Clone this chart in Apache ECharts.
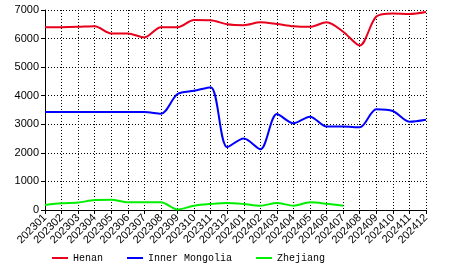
<!DOCTYPE html>
<html><head><meta charset="utf-8">
<script src="https://cdn.jsdelivr.net/npm/echarts@6/dist/echarts.min.js"></script>
<style>html,body{margin:0;padding:0;background:#fff}#c{width:466px;height:272px}</style>
</head><body><div id="c"></div>
<script>
const categories = ['202301','202302','202303','202304','202305','202306','202307','202308','202309','202310','202311','202312','202401','202402','202403','202404','202405','202406','202407','202408','202409','202410','202411','202412'];
const henan = [6400,6400,6410,6430,6180,6180,6040,6400,6400,6650,6640,6500,6470,6570,6510,6430,6410,6570,6240,5760,6770,6880,6860,6930];
const innerMongolia = [3430,3430,3430,3430,3430,3430,3430,3370,4060,4175,4300,2200,2500,2125,3360,3035,3265,2920,2920,2895,3530,3465,3090,3160];
const zhejiang = [174,233,260,350,360,267,267,267,20,150,210,245,210,150,245,150,267,220,150,null,null,null,null,null];
const seriesNames = ['Henan','Inner Mongolia','Zhejiang'];
const colors = ['#e8001c','#0000ff','#00ee00'];

const chart = echarts.init(document.getElementById('c'), null, {renderer:'canvas'});
const dotted = {type:[1,2], color:'#000', width:1};
chart.setOption({
  animation:false,
  grid:{left:45,right:40,top:10,bottom:62},
  legend:{
    bottom:4, left:47, itemWidth:16, itemHeight:2, itemGap:24,
    icon:'rect',
    textStyle:{fontFamily:'Liberation Mono', fontSize:10, color:'#000'},
    data:seriesNames
  },
  xAxis:{
    type:'category', data:categories, boundaryGap:false,
    axisLine:{lineStyle:{color:'#000',width:1}},
    axisTick:{alignWithLabel:true,length:4,lineStyle:{color:'#000'}},
    axisLabel:{rotate:45, interval:0, fontFamily:'Liberation Sans', fontSize:11, color:'#000', margin:6},
    splitLine:{show:true, lineStyle:dotted}
  },
  yAxis:{
    type:'value', min:0, max:7000, interval:1000,
    axisLine:{show:true, lineStyle:{color:'#000',width:1}},
    axisTick:{show:true,length:4,lineStyle:{color:'#000'}},
    axisLabel:{fontFamily:'Liberation Sans', fontSize:11, color:'#000', margin:6, formatter:function(v){return String(v);}},
    splitLine:{show:true, lineStyle:dotted}
  },
  series:[
    {name:seriesNames[0], type:'line', data:henan, smooth:0.3, symbol:'none', lineStyle:{width:2,color:colors[0]}, itemStyle:{color:colors[0]}},
    {name:seriesNames[1], type:'line', data:innerMongolia, smooth:0.3, symbol:'none', lineStyle:{width:2,color:colors[1]}, itemStyle:{color:colors[1]}},
    {name:seriesNames[2], type:'line', data:zhejiang, smooth:0.3, symbol:'none', lineStyle:{width:2,color:colors[2]}, itemStyle:{color:colors[2]}}
  ]
});
</script></body></html>
